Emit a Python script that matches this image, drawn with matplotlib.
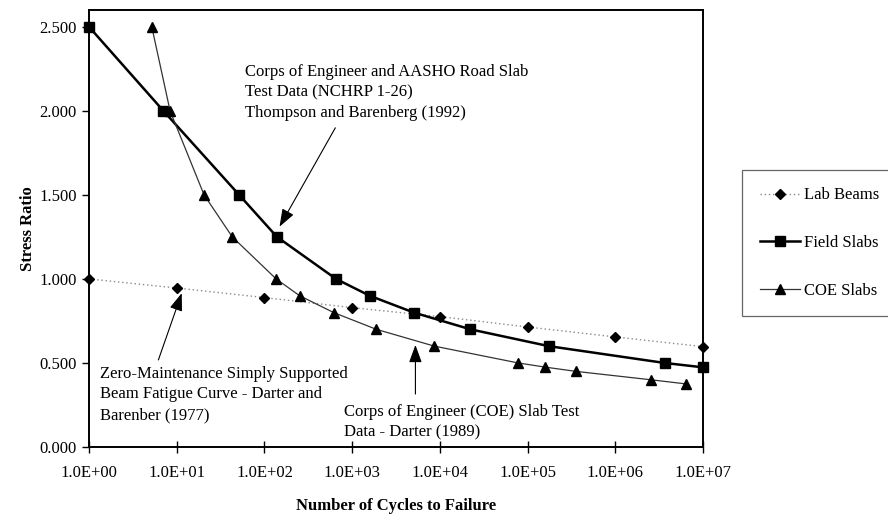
import matplotlib
matplotlib.use("Agg")
import matplotlib.pyplot as plt
from matplotlib.ticker import FixedLocator, FixedFormatter

plt.rcParams['font.family'] = ['Liberation Serif', 'DejaVu Serif']

# ---- data ----
lab_cycles = [1, 10, 100, 1e3, 1e4, 1e5, 1e6, 1e7]
lab_ratio = [1.000, 0.946, 0.889, 0.829, 0.776, 0.714, 0.655, 0.597]

field_cycles = [1, 7.05, 51.5, 139, 655, 1585, 5040, 22350, 175000, 3.66e6, 1e7]
field_ratio = [2.500, 2.000, 1.500, 1.250, 1.000, 0.900, 0.800, 0.700, 0.600, 0.500, 0.474]

coe_cycles = [5.2, 8.4, 20.5, 43, 136, 252, 615, 1890, 8670, 78300, 160000, 356000, 2.54e6, 6.48e6]
coe_ratio = [2.500, 2.000, 1.500, 1.250, 1.000, 0.900, 0.800, 0.700, 0.600, 0.500, 0.475, 0.450, 0.400, 0.375]

x_ticks = [1, 10, 100, 1e3, 1e4, 1e5, 1e6, 1e7]
x_tick_labels = ['1.0E+00', '1.0E+01', '1.0E+02', '1.0E+03', '1.0E+04', '1.0E+05', '1.0E+06', '1.0E+07']
y_ticks = [0.0, 0.5, 1.0, 1.5, 2.0, 2.5]
y_tick_labels = ['0.000', '0.500', '1.000', '1.500', '2.000', '2.500']

series_labels = ['Lab Beams', 'Field Slabs', 'COE Slabs']

fig = plt.figure(figsize=(8.88, 5.14), dpi=100)
ax = fig.add_axes([89/888, 1-447/514, (703-89)/888, (447-10)/514])

ax.plot(lab_cycles, lab_ratio, linestyle=(0, (1, 2)), color='#8a8a8a', lw=1.0,
        marker='D', markersize=5.5, markerfacecolor='black', markeredgecolor='black',
        clip_on=False, label=series_labels[0], zorder=3)
ax.plot(field_cycles, field_ratio, linestyle='-', color='black', lw=1.8,
        marker='s', markersize=6.5, markerfacecolor='black', markeredgecolor='black',
        clip_on=False, label=series_labels[1], zorder=4)
ax.plot(coe_cycles, coe_ratio, linestyle='-', color='#333333', lw=0.9,
        marker='^', markersize=6.5, markerfacecolor='black', markeredgecolor='black',
        clip_on=False, label=series_labels[2], zorder=4)

ax.set_xscale('log')
ax.set_xlim(1, 1e7)
ax.set_ylim(0, 2.6)
ax.xaxis.set_major_locator(FixedLocator(x_ticks))
ax.xaxis.set_major_formatter(FixedFormatter(x_tick_labels))
ax.xaxis.set_minor_locator(FixedLocator([]))
ax.yaxis.set_major_locator(FixedLocator(y_ticks))
ax.yaxis.set_major_formatter(FixedFormatter(y_tick_labels))

ax.tick_params(axis='x', direction='inout', length=8, width=1.0, labelsize=12, pad=9)
ax.tick_params(axis='y', direction='out', length=5, width=1.0, labelsize=12, pad=4)
for s in ax.spines.values():
    s.set_linewidth(1.4)

ax.set_xlabel('Number of Cycles to Failure', fontsize=12, fontweight='bold', labelpad=12)
ax.set_ylabel('Stress Ratio', fontsize=12, fontweight='bold', labelpad=2)

arrow = dict(arrowstyle='-|>,head_length=0.6,head_width=0.22', color='black', lw=0.8,
             mutation_scale=18, shrinkA=0, shrinkB=0)

ax.annotate('', xy=(148.7, 1.311), xytext=(643, 1.899), arrowprops=arrow)
ax.text(60.4, 2.109, 'Corps of Engineer and AASHO Road Slab\nTest Data (NCHRP 1-26)\nThompson and Barenberg (1992)',
        ha='left', va='center', fontsize=12, linespacing=1.39)

ax.annotate('', xy=(11.4, 0.915), xytext=(6.18, 0.518), arrowprops=arrow)
ax.text(1.336, 0.314, 'Zero-Maintenance Simply Supported\nBeam Fatigue Curve - Darter and\nBarenber (1977)',
        ha='left', va='center', fontsize=12, linespacing=1.39)

ax.annotate('', xy=(5265, 0.607), xytext=(5265, 0.315), arrowprops=arrow)
ax.text(800, 0.149, 'Corps of Engineer (COE) Slab Test\nData - Darter (1989)',
        ha='left', va='center', fontsize=12, linespacing=1.39)

leg = fig.legend(loc='upper left', bbox_to_anchor=(742/888, 1-170/514), fontsize=12,
                 frameon=True, fancybox=False, edgecolor='#666666', framealpha=1,
                 handlelength=2.45, handletextpad=0.2, labelspacing=1.9,
                 borderpad=1.05, borderaxespad=0)
leg.get_frame().set_linewidth(0.9)

fig.savefig('out.png', dpi=100)
